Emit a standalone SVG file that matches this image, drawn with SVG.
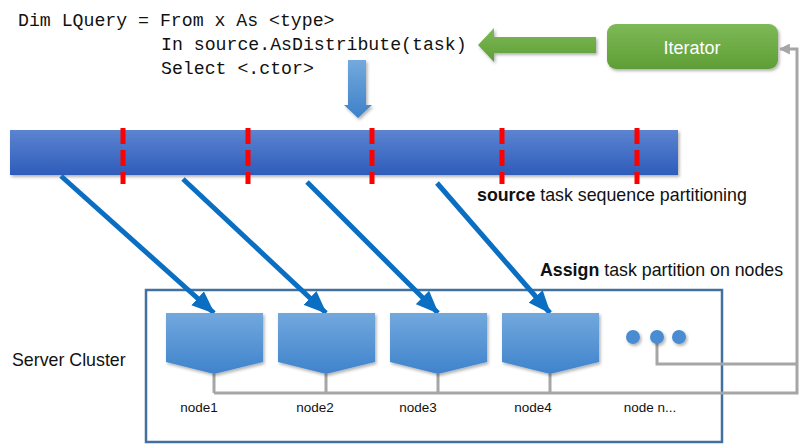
<svg xmlns="http://www.w3.org/2000/svg" width="800" height="444" viewBox="0 0 800 444">
<defs>
<linearGradient id="gBar" x1="0" y1="0" x2="0" y2="1"><stop offset="0" stop-color="#5C84D1"/><stop offset="1" stop-color="#2E5CBA"/></linearGradient>
<linearGradient id="gNode" x1="0" y1="0" x2="0" y2="1"><stop offset="0" stop-color="#72A8DD"/><stop offset="1" stop-color="#3F83CC"/></linearGradient>
<linearGradient id="gGreen" x1="0" y1="0" x2="0" y2="1"><stop offset="0" stop-color="#7DB957"/><stop offset="1" stop-color="#5F9E36"/></linearGradient>
<linearGradient id="gDown" x1="0" y1="0" x2="0" y2="1"><stop offset="0" stop-color="#74A9DD"/><stop offset="1" stop-color="#3E80C9"/></linearGradient>
<filter id="sh" x="-10%" y="-10%" width="130%" height="140%"><feDropShadow dx="1.5" dy="2" stdDeviation="1.5" flood-color="#000" flood-opacity="0.3"/></filter>
<marker id="ab" markerUnits="userSpaceOnUse" viewBox="0 0 22 18" refX="21" refY="9" markerWidth="23" markerHeight="19" orient="auto"><path d="M0,0 L22,9 L0,18 Z" fill="#0A6EC2"/></marker>
<marker id="ag" markerUnits="userSpaceOnUse" viewBox="0 0 10 10" refX="9" refY="5" markerWidth="11" markerHeight="11" orient="auto"><path d="M0,0 L10,5 L0,10 Z" fill="#A6A6A6"/></marker>
<style>
.code{font-family:"Liberation Mono","DejaVu Sans Mono",monospace;font-size:18.2px;fill:#111}
.lbl{font-family:"Liberation Sans",Arial,sans-serif;fill:#111}
.small{font-size:13.5px}
.big{font-size:17.8px}
.blue{stroke:#0A6EC2;stroke-width:5;fill:none;marker-end:url(#ab)}
.gray{stroke:#A6A6A6;stroke-width:3;fill:none}
.red{stroke:#FF0000;stroke-width:5;stroke-dasharray:16 6}
.node{fill:url(#gNode);filter:url(#sh)}
</style>
</defs>
<rect width="800" height="444" fill="#fff"/>
<g id="code">
<text class="code" x="18" y="26" xml:space="preserve">Dim LQuery = From x As &lt;type&gt;</text>
<text class="code" x="161" y="50">In source.AsDistribute(task)</text>
<text class="code" x="161" y="74">Select &lt;.ctor&gt;</text>
</g>
<g id="iterator">
<rect x="607" y="24" width="171" height="45" rx="9" fill="url(#gGreen)" filter="url(#sh)"/>
<text class="lbl" x="692" y="54" text-anchor="middle" font-size="18" style="fill:#fff">Iterator</text>
</g>
<g id="greenArrow">
<path d="M478,45 L494,28 L494,37 L596,37 L596,53 L494,53 L494,62 Z" fill="url(#gGreen)" filter="url(#sh)"/>
</g>
<g id="downArrow">
<path d="M348,60 L366,60 L366,105 L372,105 L358,118 L344,105 L348,105 Z" fill="url(#gDown)" filter="url(#sh)"/>
</g>
<g id="sourceBar">
<rect x="10" y="130" width="668" height="45" fill="url(#gBar)" filter="url(#sh)"/>
<line class="red" x1="123" y1="128" x2="123" y2="184"/>
<line class="red" x1="248" y1="128" x2="248" y2="184"/>
<line class="red" x1="372" y1="128" x2="372" y2="184"/>
<line class="red" x1="502" y1="128" x2="502" y2="184"/>
<line class="red" x1="637" y1="128" x2="637" y2="184"/>
</g>
<text class="lbl big" x="477" y="201"><tspan font-weight="bold">source</tspan> task sequence partitioning</text>
<text class="lbl big" x="540" y="276"><tspan font-weight="bold">Assign</tspan> task partition on nodes</text>
<g id="cluster">
<rect x="146" y="290" width="576" height="152" fill="none" stroke="#41719C" stroke-width="2.5"/>
<text class="lbl big" x="12" y="366">Server Cluster</text>
</g>
<g id="connectors">
<line class="blue" x1="61" y1="176" x2="214" y2="313"/>
<line class="blue" x1="183" y1="179" x2="326" y2="313"/>
<line class="blue" x1="307" y1="182" x2="438" y2="313"/>
<line class="blue" x1="437" y1="183" x2="550" y2="313"/>
<path class="gray" d="M214,374 V393 M326,374 V393 M438,374 V393 M550,374 V393 M214,393 H797 V49 H780" marker-end="url(#ag)"/>
<path class="gray" d="M657,340 V364 H797"/>
</g>
<g id="node1"><path class="node" d="M166,313 H263 V362 L214,374 L166,362 Z"/><text class="lbl small" x="199" y="412" text-anchor="middle">node1</text></g>
<g id="node2"><path class="node" d="M278,313 H375 V362 L326,374 L278,362 Z"/><text class="lbl small" x="315" y="412" text-anchor="middle">node2</text></g>
<g id="node3"><path class="node" d="M390,313 H487 V362 L438,374 L390,362 Z"/><text class="lbl small" x="418" y="412" text-anchor="middle">node3</text></g>
<g id="node4"><path class="node" d="M502,313 H599 V362 L550,374 L502,362 Z"/><text class="lbl small" x="533" y="412" text-anchor="middle">node4</text></g>
<g id="nodeN">
<circle cx="633" cy="337" r="7" fill="#4A8CD2" filter="url(#sh)"/>
<circle cx="657" cy="337" r="7" fill="#4A8CD2" filter="url(#sh)"/>
<circle cx="679" cy="337" r="7" fill="#4A8CD2" filter="url(#sh)"/>
<text class="lbl small" x="650" y="412" text-anchor="middle">node n...</text>
</g>
</svg>
